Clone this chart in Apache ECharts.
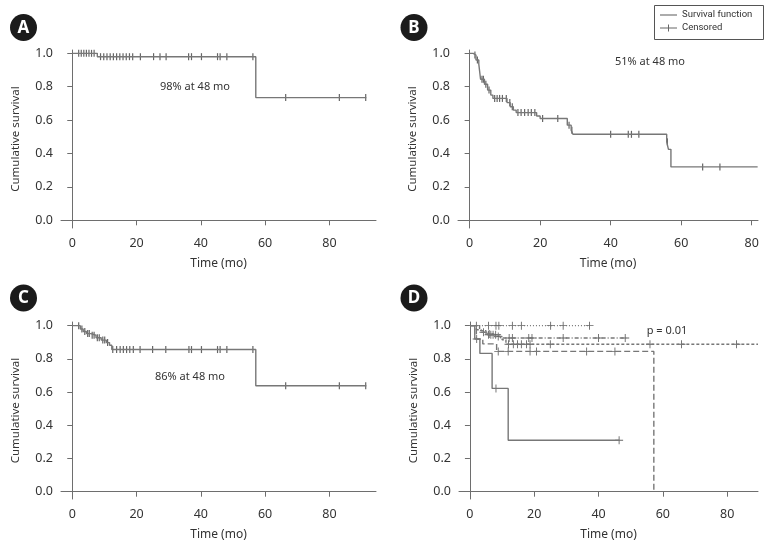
<!DOCTYPE html>
<html>
<head>
<meta charset="utf-8">
<script src="https://cdn.jsdelivr.net/npm/echarts@6/dist/echarts.min.js"></script>
<style>html,body{margin:0;padding:0;background:#fff}#c{width:782px;height:546px}</style>
</head>
<body>
<div id="c"></div>
<script>
// ---------- DATA ----------
const xTickValues = [0, 20, 40, 60, 80];
const yTickValues = [0, 0.2, 0.4, 0.6, 0.8, 1.0];
const xAxisTitle = 'Time (mo)';
const yAxisTitle = 'Cumulative survival';

// Panel A
const aEventT = [0, 7.8, 57.1];
const aEventS = [1.0, 0.98, 0.735];
const aEnd = 91.5;
const aCensor = [2, 2.8, 3.6, 4.4, 5.2, 6, 6.8, 8.8, 9.8, 10.8, 11.8, 12.8, 13.8, 14.8, 15.8, 16.8, 17.8, 18.8, 21.2, 25.3, 27.3, 29.2, 36.2, 37.1, 40.2, 45.2, 46, 48.1, 56.2, 66.4, 83.1, 91.3];
const aNote = '98% at 48 mo';

// Panel B
const bEventT = [0, 1, 1.8, 2.6, 3.1, 4.2, 5.1, 6, 6.6, 10.6, 11.5, 12.4, 13.2, 19, 20, 27.7, 28.8, 29.3, 55.9, 56.4, 57.1];
const bEventS = [1.0, 0.99, 0.96, 0.935, 0.845, 0.815, 0.78, 0.75, 0.73, 0.705, 0.68, 0.66, 0.645, 0.625, 0.61, 0.57, 0.54, 0.515, 0.47, 0.425, 0.32];
const bEnd = 81.7;
const bCensor = [1.5, 2.2, 3.5, 3.9, 4.6, 5.5, 7.1, 7.8, 8.5, 9.3, 10.4, 11.4, 12.1, 13.7, 14.6, 15.6, 16.6, 17.5, 18.5, 20.7, 25, 28.2, 29, 40, 45, 45.9, 48, 56.1, 66.1, 71];
const bNote = '51% at 48 mo';

// Panel C
const cEventT = [0, 2.5, 3.4, 4.4, 5.8, 7.4, 9, 10.6, 11.6, 12.3, 57.1];
const cEventS = [1.0, 0.98, 0.965, 0.952, 0.942, 0.927, 0.913, 0.898, 0.882, 0.856, 0.638];
const cEnd = 91.5;
const cCensor = [2, 3, 3.9, 4.8, 5.3, 6.2, 6.8, 7.8, 8.4, 9.5, 10.1, 11, 12.6, 13.8, 14.9, 15.9, 16.9, 17.9, 19, 21.1, 25, 29.1, 36.3, 37.1, 40.2, 45.2, 46, 48.1, 56.2, 66.4, 83.1, 91.3];
const cNote = '86% at 48 mo';

// Panel D (five groups)
const d1EventT = [0, 1.5, 3.1, 6.9, 11.9];
const d1EventS = [1.0, 0.92, 0.833, 0.622, 0.31];
const d1End = 46.4;
const d1Censor = [2.1, 8.1, 46.4];

const d2EventT = [0];
const d2EventS = [1.0];
const d2End = 37.2;
const d2Censor = [2, 5.8, 8.1, 9, 13.2, 16, 25.1, 29, 37.2];

const d3EventT = [0, 2, 3.5, 5, 9.5];
const d3EventS = [1.0, 0.975, 0.96, 0.945, 0.926];
const d3End = 48.6;
const d3Censor = [4.2, 5.8, 6.5, 7.2, 8, 12.2, 13.2, 18.3, 19.3, 29, 40, 48.3];

const d4EventT = [0, 3, 5, 7.5, 10, 11.2];
const d4EventS = [1.0, 0.97, 0.95, 0.935, 0.915, 0.888];
const d4End = 89.6;
const d4Censor = [6, 8.8, 12, 13.5, 14.8, 16, 17.6, 18.7, 25, 56, 65.8, 82.9];

const d5EventT = [0, 2, 4, 8.3, 57.2];
const d5EventS = [1.0, 0.92, 0.89, 0.845, 0];
const d5End = 57.2;
const d5Censor = [8.8, 11.9, 18.7, 20.7, 36.3, 45.1];
const dNote = 'p = 0.01';

const legendLabels = ['Survival function', 'Censored'];

// ---------- HELPERS ----------
function stepData(T, S, end) {
  const out = T.map((t, i) => [t, S[i]]);
  if (end > T[T.length - 1]) out.push([end, S[S.length - 1]]);
  return out;
}
function survAt(T, S, t) {
  let v = S[0];
  for (let i = 0; i < T.length; i++) if (T[i] <= t) v = S[i];
  return v;
}
function censorData(T, S, C) { return C.map(t => [t, survAt(T, S, t)]); }

const FONT = 'Noto Sans';
const AX = '#6e6e6e';
const LINE = '#777';
const TXT = '#333';

function xAxisCfg(idx, min, max) {
  return {
    gridIndex: idx, type: 'value', min: min, max: max,
    name: xAxisTitle, nameLocation: 'middle', nameGap: 30,
    nameTextStyle: { fontFamily: FONT, fontSize: 12, color: TXT },
    axisLine: { show: true, lineStyle: { color: AX, width: 1 } },
    axisTick: { show: true, length: 5, lineStyle: { color: AX }, customValues: xTickValues },
    axisLabel: { fontFamily: FONT, fontSize: 12.5, color: TXT, margin: 9, customValues: xTickValues, formatter: v => String(v) },
    splitLine: { show: false }
  };
}
function yAxisCfg(idx, min, max) {
  return {
    gridIndex: idx, type: 'value', min: min, max: max,
    name: yAxisTitle, nameLocation: 'middle', nameGap: 39, nameRotate: 90,
    nameTextStyle: { fontFamily: FONT, fontSize: 11.5, color: TXT },
    axisLine: { show: true, lineStyle: { color: AX, width: 1 } },
    axisTick: { show: true, length: 5, lineStyle: { color: AX }, customValues: yTickValues },
    axisLabel: { fontFamily: FONT, fontSize: 12.5, color: TXT, margin: 8, customValues: yTickValues, formatter: v => v.toFixed(1) },
    splitLine: { show: false }
  };
}

const VTICK = 'rect';
const PLUS = 'path://M4,0h1v9h-1zM0,4h9v1h-9z';

function kmLine(idx, T, S, end, lineType) {
  return {
    type: 'line', xAxisIndex: idx, yAxisIndex: idx, step: 'end',
    data: stepData(T, S, end), showSymbol: false, silent: true,
    lineStyle: { color: LINE, width: 1.4, type: lineType || 'solid' }
  };
}
function kmCensor(idx, T, S, C, sym) {
  return {
    type: 'scatter', xAxisIndex: idx, yAxisIndex: idx,
    data: censorData(T, S, C), silent: true,
    symbol: sym === 'plus' ? PLUS : VTICK,
    symbolSize: sym === 'plus' ? [8, 8] : [1.2, 7],
    itemStyle: { color: '#666', opacity: 1 }
  };
}

const option = {
  animation: false,
  backgroundColor: '#fff',
  grid: [
    { left: 61, top: 50, width: 315, height: 178 },
    { left: 458, top: 50, width: 300, height: 178 },
    { left: 61, top: 322, width: 315, height: 177 },
    { left: 459, top: 322, width: 299, height: 177 }
  ],
  xAxis: [
    xAxisCfg(0, -3.5, 94.5),
    xAxisCfg(1, -3.3, 81.8),
    xAxisCfg(2, -3.5, 94.5),
    xAxisCfg(3, -3.4, 89.6)
  ],
  yAxis: [
    yAxisCfg(0, -0.046, 1.02),
    yAxisCfg(1, -0.046, 1.02),
    yAxisCfg(2, -0.044, 1.022),
    yAxisCfg(3, -0.044, 1.022)
  ],
  series: [
    kmLine(0, aEventT, aEventS, aEnd), kmCensor(0, aEventT, aEventS, aCensor),
    kmLine(1, bEventT, bEventS, bEnd), kmCensor(1, bEventT, bEventS, bCensor),
    kmLine(2, cEventT, cEventS, cEnd), kmCensor(2, cEventT, cEventS, cCensor),
    kmLine(3, d2EventT, d2EventS, d2End, [1, 2]), kmCensor(3, d2EventT, d2EventS, d2Censor, 'plus'),
    kmLine(3, d3EventT, d3EventS, d3End, [4, 2, 1, 2]), kmCensor(3, d3EventT, d3EventS, d3Censor, 'plus'),
    kmLine(3, d4EventT, d4EventS, d4End, [3, 2]), kmCensor(3, d4EventT, d4EventS, d4Censor, 'plus'),
    kmLine(3, d5EventT, d5EventS, d5End, [6, 3]), kmCensor(3, d5EventT, d5EventS, d5Censor, 'plus'),
    kmLine(3, d1EventT, d1EventS, d1End), kmCensor(3, d1EventT, d1EventS, d1Censor, 'plus')
  ],
  graphic: [
    // panel badges
    { type: 'circle', shape: { cx: 23.5, cy: 27.5, r: 13.5 }, style: { fill: '#1b1b1b' } },
    { type: 'text', x: 23.5, y: 28, style: { text: 'A', fill: '#fff', font: 'bold 17px "Noto Sans"', align: 'center', verticalAlign: 'middle' } },
    { type: 'circle', shape: { cx: 414, cy: 27.5, r: 13.5 }, style: { fill: '#1b1b1b' } },
    { type: 'text', x: 414, y: 28, style: { text: 'B', fill: '#fff', font: 'bold 17px "Noto Sans"', align: 'center', verticalAlign: 'middle' } },
    { type: 'circle', shape: { cx: 23.5, cy: 298, r: 13.5 }, style: { fill: '#1b1b1b' } },
    { type: 'text', x: 23.5, y: 298.5, style: { text: 'C', fill: '#fff', font: 'bold 17px "Noto Sans"', align: 'center', verticalAlign: 'middle' } },
    { type: 'circle', shape: { cx: 414, cy: 298, r: 13.5 }, style: { fill: '#1b1b1b' } },
    { type: 'text', x: 414, y: 298.5, style: { text: 'D', fill: '#fff', font: 'bold 17px "Noto Sans"', align: 'center', verticalAlign: 'middle' } },
    // annotations
    { type: 'text', x: 195, y: 87, style: { text: aNote, fill: TXT, font: '11px "Noto Sans"', align: 'center', verticalAlign: 'middle' } },
    { type: 'text', x: 650, y: 62, style: { text: bNote, fill: TXT, font: '11px "Noto Sans"', align: 'center', verticalAlign: 'middle' } },
    { type: 'text', x: 190, y: 377, style: { text: cNote, fill: TXT, font: '11px "Noto Sans"', align: 'center', verticalAlign: 'middle' } },
    { type: 'text', x: 667, y: 331, style: { text: dNote, fill: TXT, font: '11px "Noto Sans"', align: 'center', verticalAlign: 'middle' } },
    // legend box
    { type: 'rect', shape: { x: 654.5, y: 5.5, width: 109, height: 34 }, style: { fill: '#fff', stroke: '#555', lineWidth: 1 } },
    { type: 'line', shape: { x1: 660, y1: 15, x2: 677, y2: 15 }, style: { stroke: '#888', lineWidth: 1.4 } },
    { type: 'text', x: 682, y: 15, style: { text: legendLabels[0], fill: TXT, font: '9.5px Roboto', verticalAlign: 'middle' } },
    { type: 'line', shape: { x1: 660, y1: 28, x2: 677, y2: 28 }, style: { stroke: '#666', lineWidth: 1 } },
    { type: 'line', shape: { x1: 668.5, y1: 24.5, x2: 668.5, y2: 31.5 }, style: { stroke: '#666', lineWidth: 1 } },
    { type: 'text', x: 682, y: 28, style: { text: legendLabels[1], fill: TXT, font: '9.5px Roboto', verticalAlign: 'middle' } }
  ]
};

const chart = echarts.init(document.getElementById('c'), null, { renderer: 'canvas' });
chart.setOption(option);
</script>
</body>
</html>
